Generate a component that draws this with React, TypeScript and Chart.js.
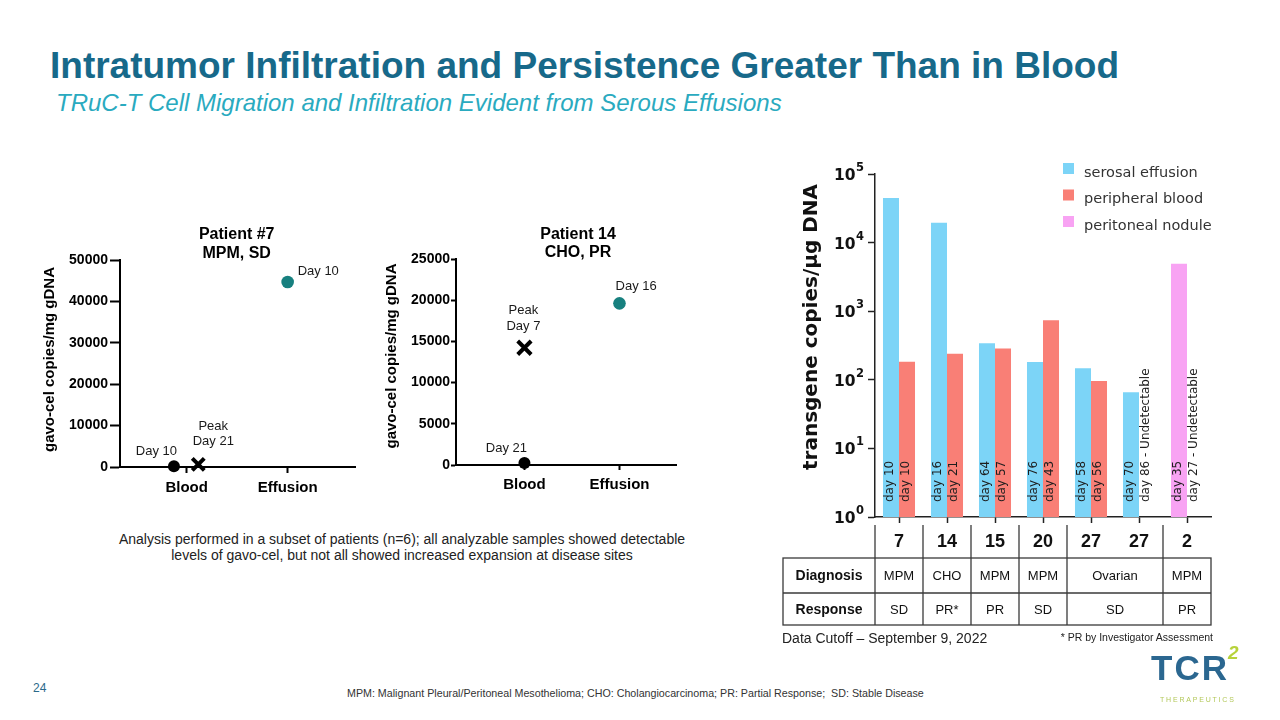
import React, { useEffect, useRef } from 'react';
import { Chart, registerables } from 'chart.js';

Chart.register(...registerables);

// ---------------- Data ----------------
const bloodEffusionCategories = ['Blood', 'Effusion'];

// Patient #7 (MPM, SD)
const p7YTicks = [0, 10000, 20000, 30000, 40000, 50000];
const p7BloodValues = [183]; // Day 10
const p7PeakValues = [650]; // Peak Day 21
const p7EffusionValues = [44700]; // Day 10
const p7PointLabels = ['Day 10', 'Peak|Day 21', 'Day 10'];
const p7Title = ['Patient #7', 'MPM, SD'];

// Patient 14 (CHO, PR)
const p14YTicks = [0, 5000, 10000, 15000, 20000, 25000];
const p14BloodValues = [240]; // Day 21
const p14PeakValues = [14230]; // Peak Day 7
const p14EffusionValues = [19620]; // Day 16
const p14PointLabels = ['Day 21', 'Peak|Day 7', 'Day 16'];
const p14Title = ['Patient 14', 'CHO, PR'];

// Right panel (log scale)
const patientIds = ['7', '14', '15', '20', '27', '27', '2'];
const serosalEffusion = [44700, 19500, 340, 182, 147, 66, null];
const peripheralBlood = [183, 240, 285, 735, 96, null, null];
const peritonealNodule = [null, null, null, null, null, null, 4900];
const leftSlotDays = ['day 10', 'day 16', 'day 64', 'day 76', 'day 58', 'day 70', 'day 35'];
const rightSlotDays = ['day 10', 'day 21', 'day 57', 'day 43', 'day 56', 'day 86 - Undetectable', 'day 27 - Undetectable'];
const logTicks = [1, 10, 100, 1000, 10000, 100000];
const diagnosisCells = ['MPM', 'CHO', 'MPM', 'MPM', 'Ovarian', 'MPM'];
const responseCells = ['SD', 'PR*', 'PR', 'SD', 'SD', 'PR'];
const cellSpans = [1, 1, 1, 1, 2, 1];

// ---------------- Styles ----------------
const ARIAL = '"Liberation Sans", Arial, sans-serif';
const GOTHIC = '"DejaVu Sans", sans-serif';
const TEAL_POINT = '#17807f';
const BLUE = '#7cd4f7';
const RED = '#f97f76';
const PINK = '#f8a3f3';

// ---------------- Generic canvas host ----------------
function ChartBox({ left, top, width, height, build }: { left: number; top: number; width: number; height: number; build: () => any }) {
  const ref = useRef<HTMLCanvasElement | null>(null);
  useEffect(() => {
    if (!ref.current) return;
    const chart = new Chart(ref.current, build());
    return () => chart.destroy();
  }, []);
  return (
    <div style={{ position: 'absolute', left, top, width, height }}>
      <canvas ref={ref} width={width} height={height} style={{ width, height, display: 'block' }} />
    </div>
  );
}

// ---------------- Scatter panels ----------------
interface ScatterSpec {
  width: number;
  height: number;
  area: { left: number; top: number; right: number; bottom: number };
  xMin: number;
  xMax: number;
  yTicks: number[];
  blood: number[];
  peak: number[];
  effusion: number[];
  bloodJitter: number;
  peakJitter: number;
  labels: string[];
  labelOffsets: [number, number][][];
  title: string[];
  titleX: number;
  titleY: number[];
  yTitleX: number;
  yTitleY: number;
  yTickLength: number;
  yTickPadding: number;
  xTickLength: number;
  crossRadius: number;
}

function scatterConfig(s: ScatterSpec) {
  const decor = {
    id: 'scatterDecor',
    afterDraw(chart: any) {
      const ctx = chart.ctx as CanvasRenderingContext2D;
      const xs = chart.scales.x;
      const ys = chart.scales.y;
      ctx.save();
      ctx.fillStyle = '#000';
      ctx.textAlign = 'center';
      ctx.textBaseline = 'middle';
      ctx.font = `bold 16px ${ARIAL}`;
      s.title.forEach((t, i) => ctx.fillText(t, s.titleX, s.titleY[i]));
      ctx.save();
      ctx.translate(s.yTitleX, s.yTitleY);
      ctx.rotate(-Math.PI / 2);
      ctx.font = `bold 15px ${ARIAL}`;
      ctx.fillText('gavo-cel copies/mg gDNA', 0, 0);
      ctx.restore();
      ctx.font = `13px ${ARIAL}`;
      ctx.fillStyle = '#1a1a1a';
      const anchors: [number, number][] = [
        [s.bloodJitter, s.blood[0]],
        [s.peakJitter, s.peak[0]],
        [1, s.effusion[0]],
      ];
      anchors.forEach(([xv, yv], k) => {
        const px = xs.getPixelForValue(xv);
        const py = ys.getPixelForValue(yv);
        s.labels[k].split('|').forEach((ln, li) => {
          const [dx, dy] = s.labelOffsets[k][li];
          ctx.fillText(ln, px + dx, py + dy);
        });
      });
      ctx.restore();
    },
  };

  return {
    type: 'scatter',
    data: {
      datasets: [
        {
          label: 'Blood',
          data: s.blood.map((v) => ({ x: s.bloodJitter, y: v })),
          pointStyle: 'circle',
          pointRadius: 6,
          backgroundColor: '#000',
          borderColor: '#000',
          borderWidth: 0,
          clip: false,
        },
        {
          label: 'Peak',
          data: s.peak.map((v) => ({ x: s.peakJitter, y: v })),
          pointStyle: 'crossRot',
          pointRadius: s.crossRadius,
          backgroundColor: '#000',
          borderColor: '#000',
          borderWidth: 4,
          clip: false,
        },
        {
          label: 'Effusion',
          data: s.effusion.map((v) => ({ x: 1, y: v })),
          pointStyle: 'circle',
          pointRadius: 6.3,
          backgroundColor: TEAL_POINT,
          borderColor: TEAL_POINT,
          borderWidth: 0,
          clip: false,
        },
      ],
    },
    options: {
      responsive: false,
      animation: false,
      events: [],
      layout: { padding: { left: 0, top: s.area.top, right: s.width - s.area.right, bottom: 0 } },
      plugins: { legend: { display: false }, tooltip: { enabled: false }, title: { display: false } },
      scales: {
        x: {
          type: 'linear',
          min: s.xMin,
          max: s.xMax,
          afterBuildTicks: (sc: any) => {
            sc.ticks = bloodEffusionCategories.map((_, i) => ({ value: i }));
          },
          afterFit: (sc: any) => {
            sc.height = s.height - s.area.bottom;
          },
          ticks: {
            callback: (v: number) => bloodEffusionCategories[v],
            font: { family: ARIAL, size: 15, weight: 'bold' },
            color: '#000',
            padding: 6,
            maxRotation: 0,
            autoSkip: false,
          },
          grid: { drawOnChartArea: false, drawTicks: true, tickLength: s.xTickLength, tickWidth: 2, tickColor: '#000' },
          border: { color: '#000', width: 2 },
        },
        y: {
          min: s.yTicks[0],
          max: s.yTicks[s.yTicks.length - 1],
          afterBuildTicks: (sc: any) => {
            sc.ticks = s.yTicks.map((v) => ({ value: v }));
          },
          afterFit: (sc: any) => {
            sc.width = s.area.left;
          },
          ticks: {
            font: { family: ARIAL, size: 14, weight: 'bold' },
            color: '#000',
            padding: s.yTickPadding,
            callback: (v: number) => String(v),
          },
          grid: { drawOnChartArea: false, drawTicks: true, tickLength: s.yTickLength, tickWidth: 2, tickColor: '#000' },
          border: { color: '#000', width: 2 },
        },
      },
    },
    plugins: [decor],
  };
}

const p7Spec: ScatterSpec = {
  width: 340,
  height: 290,
  area: { left: 90, top: 40, right: 325, bottom: 247 },
  xMin: -0.66,
  xMax: 1.667,
  yTicks: p7YTicks,
  blood: p7BloodValues,
  peak: p7PeakValues,
  effusion: p7EffusionValues,
  bloodJitter: -0.126,
  peakJitter: 0.115,
  labels: p7PointLabels,
  labelOffsets: [[[-17.5, -15]], [[15, -38.3], [15, -22.6]], [[30.6, -11]]],
  title: p7Title,
  titleX: 206.7,
  titleY: [15, 33.3],
  yTitleX: 20,
  yTitleY: 139.5,
  yTickLength: 10,
  yTickPadding: 2,
  xTickLength: 6,
  crossRadius: 8.5,
};

const p14Spec: ScatterSpec = {
  width: 320,
  height: 290,
  area: { left: 86, top: 39, right: 318, bottom: 245 },
  xMin: -0.72,
  xMax: 1.6,
  yTicks: p14YTicks,
  blood: p14BloodValues,
  peak: p14PeakValues,
  effusion: p14EffusionValues,
  bloodJitter: 0,
  peakJitter: 0,
  labels: p14PointLabels,
  labelOffsets: [[[-18, -14.7]], [[-1, -37.7], [-1, -21.7]], [[16.7, -17.3]]],
  title: p14Title,
  titleX: 208,
  titleY: [15, 33],
  yTitleX: 22,
  yTitleY: 136,
  yTickLength: 5,
  yTickPadding: 1,
  xTickLength: 5,
  crossRadius: 9.5,
};

// ---------------- Log bar panel ----------------
const BAR_W = 455;
const BAR_H = 500;
const BAR_AREA = { left: 100, top: 24, right: 436, bottom: 367 };
const CAT_PCT = 0.667;

function barConfig() {
  const decor = {
    id: 'barDecor',
    afterDatasetsDraw(chart: any) {
      const ctx = chart.ctx as CanvasRenderingContext2D;
      const xs = chart.scales.x;
      const step = xs.getPixelForValue(1) - xs.getPixelForValue(0);
      const slot = (step * CAT_PCT) / 2;
      ctx.save();
      ctx.fillStyle = '#1e1e1e';
      ctx.font = `12px ${GOTHIC}`;
      ctx.textBaseline = 'middle';
      ctx.textAlign = 'left';
      patientIds.forEach((_, i) => {
        const cx = xs.getPixelForValue(i);
        const items: [string, number][] = [
          [leftSlotDays[i], cx - slot / 2],
          [rightSlotDays[i], cx + slot / 2],
        ];
        items.forEach(([t, x]) => {
          ctx.save();
          ctx.translate(x - 1, chart.chartArea.bottom - 15);
          ctx.rotate(-Math.PI / 2);
          ctx.fillText(t, 0, 0);
          ctx.restore();
        });
      });
      ctx.restore();
    },
    afterDraw(chart: any) {
      const ctx = chart.ctx as CanvasRenderingContext2D;
      const xs = chart.scales.x;
      const ys = chart.scales.y;
      ctx.save();
      // y tick labels with superscripts
      const rightEdge = 89;
      logTicks.forEach((v) => {
        const y = ys.getPixelForValue(v);
        const exp = String(Math.round(Math.log10(v)));
        ctx.font = `bold 11.5px ${GOTHIC}`;
        const supW = ctx.measureText(exp).width;
        ctx.fillStyle = '#111';
        ctx.textAlign = 'left';
        ctx.textBaseline = 'alphabetic';
        ctx.fillText(exp, rightEdge - supW, y - 3);
        ctx.font = `bold 15.5px ${GOTHIC}`;
        ctx.textAlign = 'right';
        ctx.textBaseline = 'middle';
        ctx.fillText('10', rightEdge - supW - 0.5, y + 2);
      });
      // y title
      ctx.save();
      ctx.translate(37, 177);
      ctx.rotate(-Math.PI / 2);
      ctx.font = `bold 20px ${GOTHIC}`;
      ctx.fillStyle = '#111';
      ctx.textAlign = 'center';
      ctx.textBaseline = 'middle';
      ctx.fillText('transgene copies/\u00b5g DNA', 0, 0);
      ctx.restore();
      // legend
      const order = [0, 2, 1];
      ctx.font = `14.5px ${GOTHIC}`;
      ctx.textAlign = 'left';
      ctx.textBaseline = 'middle';
      order.forEach((di, r) => {
        const ds = chart.data.datasets[di];
        const top = 13 + r * 26.5;
        ctx.fillStyle = ds.backgroundColor;
        ctx.fillRect(288, top, 11, 11);
        ctx.fillStyle = '#333';
        ctx.fillText(ds.label, 309, top + 10);
      });
      // table
      const step = xs.getPixelForValue(1) - xs.getPixelForValue(0);
      const bnd = (j: number) => xs.getPixelForValue(0) - step / 2 + j * step;
      const headerTop = 375;
      const headerBottom = 408;
      const rowMid = 443;
      const tableBottom = 475;
      const tableLeft = 8;
      const starts: number[] = [];
      let acc = 0;
      cellSpans.forEach((sp) => {
        starts.push(acc);
        acc += sp;
      });
      ctx.strokeStyle = '#3a3a3a';
      ctx.lineWidth = 1.3;
      const line = (x1: number, y1: number, x2: number, y2: number) => {
        ctx.beginPath();
        ctx.moveTo(x1, y1);
        ctx.lineTo(x2, y2);
        ctx.stroke();
      };
      starts.forEach((st) => line(bnd(st), headerTop, bnd(st), headerBottom));
      ctx.strokeRect(tableLeft, headerBottom, bnd(patientIds.length) - tableLeft, tableBottom - headerBottom);
      line(tableLeft, rowMid, bnd(patientIds.length), rowMid);
      starts.forEach((st) => line(bnd(st), headerBottom, bnd(st), tableBottom));
      ctx.fillStyle = '#111';
      ctx.textAlign = 'center';
      ctx.textBaseline = 'middle';
      ctx.font = `bold 18px ${ARIAL}`;
      patientIds.forEach((p, i) => ctx.fillText(p, xs.getPixelForValue(i), 392));
      ctx.font = `bold 14px ${ARIAL}`;
      ctx.fillText('Diagnosis', (tableLeft + bnd(0)) / 2, (headerBottom + rowMid) / 2 + 1);
      ctx.fillText('Response', (tableLeft + bnd(0)) / 2, (rowMid + tableBottom) / 2 + 1);
      ctx.font = `13px ${ARIAL}`;
      starts.forEach((st, k) => {
        const cx = (bnd(st) + bnd(st + cellSpans[k])) / 2;
        ctx.fillText(diagnosisCells[k], cx, (headerBottom + rowMid) / 2 + 1);
        ctx.fillText(responseCells[k], cx, (rowMid + tableBottom) / 2 + 1);
      });
      ctx.restore();
    },
  };

  return {
    type: 'bar',
    data: {
      labels: patientIds,
      datasets: [
        { label: 'serosal effusion', data: serosalEffusion, backgroundColor: BLUE, stack: 'left', categoryPercentage: CAT_PCT, barPercentage: 1 },
        { label: 'peritoneal nodule', data: peritonealNodule, backgroundColor: PINK, stack: 'left', categoryPercentage: CAT_PCT, barPercentage: 1 },
        { label: 'peripheral blood', data: peripheralBlood, backgroundColor: RED, stack: 'right', categoryPercentage: CAT_PCT, barPercentage: 1 },
      ],
    },
    options: {
      responsive: false,
      animation: false,
      events: [],
      layout: { padding: { left: 0, top: BAR_AREA.top, right: BAR_W - BAR_AREA.right, bottom: 0 } },
      plugins: { legend: { display: false }, tooltip: { enabled: false } },
      scales: {
        x: {
          type: 'category',
          offset: true,
          ticks: { display: false },
          grid: { offset: false, drawOnChartArea: false, drawTicks: true, tickLength: 6, tickWidth: 1.5, tickColor: '#222' },
          border: { color: '#222', width: 1.5 },
          afterFit: (sc: any) => {
            sc.height = BAR_H - BAR_AREA.bottom;
          },
        },
        y: {
          type: 'logarithmic',
          min: 1,
          max: 100000,
          stacked: false,
          afterBuildTicks: (sc: any) => {
            sc.ticks = logTicks.map((v) => ({ value: v, major: true }));
          },
          ticks: { display: false },
          grid: { drawOnChartArea: false, drawTicks: true, tickLength: 7, tickWidth: 1.5, tickColor: '#222' },
          border: { color: '#222', width: 1.5 },
          afterFit: (sc: any) => {
            sc.width = BAR_AREA.left;
          },
        },
      },
    },
    plugins: [decor],
  };
}

// ---------------- App ----------------
export default function App() {
  const abs = (o: React.CSSProperties): React.CSSProperties => ({ position: 'absolute', whiteSpace: 'nowrap', ...o });
  return (
    <div style={{ position: 'absolute', left: 0, top: 0, width: 1280, height: 720, background: '#fff', overflow: 'hidden', fontFamily: ARIAL }}>
      <div style={abs({ left: 50, top: 47, fontSize: 37, lineHeight: '37px', fontWeight: 'bold', color: '#17698a' })}>
        Intratumor Infiltration and Persistence Greater Than in Blood
      </div>
      <div style={abs({ left: 56, top: 91, fontSize: 24, lineHeight: '24px', fontStyle: 'italic', color: '#2aaabf' })}>
        TRuC-T Cell Migration and Infiltration Evident from Serous Effusions
      </div>

      <ChartBox left={30} top={220} width={p7Spec.width} height={p7Spec.height} build={() => scatterConfig(p7Spec)} />
      <ChartBox left={370} top={220} width={p14Spec.width} height={p14Spec.height} build={() => scatterConfig(p14Spec)} />
      <ChartBox left={775} top={150} width={BAR_W} height={BAR_H} build={barConfig} />

      <div style={abs({ left: 102, top: 531, width: 600, textAlign: 'center', fontSize: 14, lineHeight: '16px', color: '#222', whiteSpace: 'normal' })}>
        Analysis performed in a subset of patients (n=6); all analyzable samples showed detectable
        <br />
        levels of gavo-cel, but not all showed increased expansion at disease sites
      </div>

      <div style={abs({ left: 782, top: 630, fontSize: 14, lineHeight: '16px', color: '#222' })}>Data Cutoff – September 9, 2022</div>
      <div style={abs({ right: 67, top: 629, fontSize: 10.5, lineHeight: '16px', color: '#222' })}>* PR by Investigator Assessment</div>

      <div style={abs({ left: 33, top: 680, fontSize: 12, lineHeight: '16px', color: '#2b6a8a' })}>24</div>
      <div style={abs({ left: 347, top: 685, fontSize: 10.7, lineHeight: '16px', color: '#333' })}>
        MPM: Malignant Pleural/Peritoneal Mesothelioma; CHO: Cholangiocarcinoma; PR: Partial Response;&nbsp; SD: Stable Disease
      </div>

      <div style={abs({ left: 1151, top: 650, fontSize: 35, lineHeight: '35px', fontWeight: 'bold', color: '#2b6790', letterSpacing: 2 })}>TCR</div>
      <div style={abs({ left: 1228, top: 643, fontSize: 19, lineHeight: '19px', fontWeight: 'bold', fontStyle: 'italic', color: '#b7d23a' })}>2</div>
      <div style={abs({ left: 1160, top: 696, fontSize: 7, lineHeight: '8px', color: '#b3c85a', letterSpacing: 1.8 })}>THERAPEUTICS</div>
    </div>
  );
}
